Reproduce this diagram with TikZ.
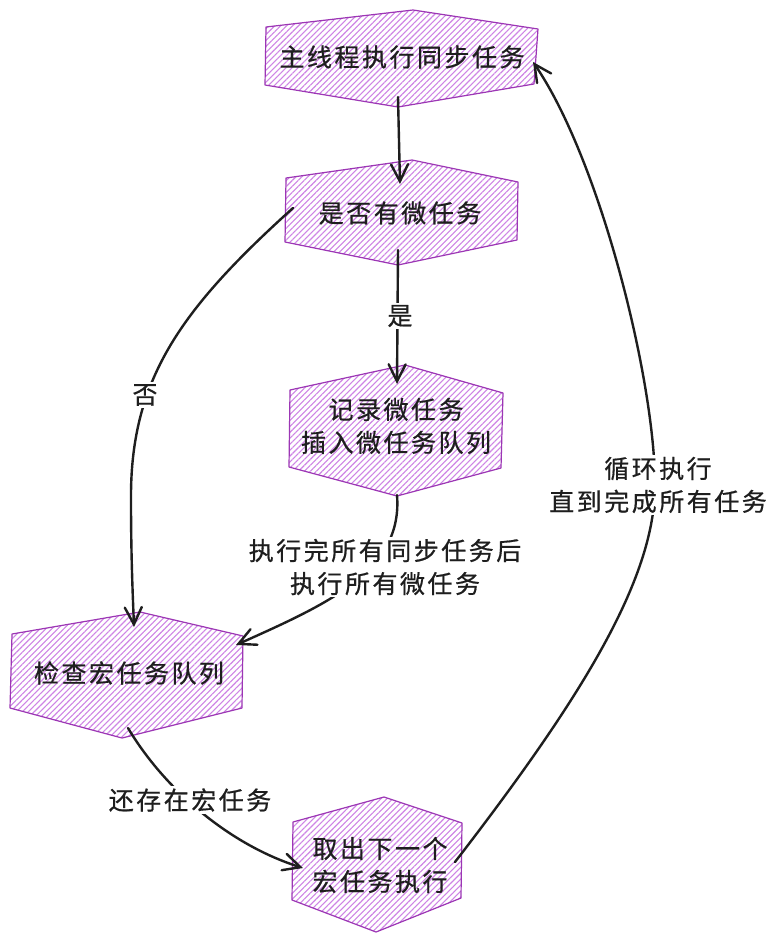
\documentclass[tikz,border=0pt]{standalone}
\usepackage{fontspec}
\setmainfont{Noto Sans CJK SC}
\usepackage{tikz}
\usetikzlibrary{arrows.meta,patterns.meta}
\definecolor{hexline}{RGB}{156,54,181}
\definecolor{hexhatch}{RGB}{206,132,229}
\definecolor{ink}{RGB}{30,30,30}
\begin{document}
\begin{tikzpicture}[x=1pt,y=-1pt]
\tikzstyle{every node}+=[inner sep=0pt, align=center, text=ink,
  font=\fontsize{25}{33}\selectfont\addfontfeature{LetterSpace=10,FakeBold=0.6}]
\tikzstyle{hexbox}=[draw=hexline, line width=1.2pt, line join=round,
  pattern={Lines[angle=45,distance=4.2pt,line width=1.1pt]}, pattern color=hexhatch]
\tikzstyle{link}=[draw=ink, line width=2.4pt, line cap=round,
  -{Straight Barb[length=17pt,width=17pt,line cap=round]}]
\tikzstyle{lbl}=[fill=white, inner sep=2pt]
\useasboundingbox (0,0) rectangle (777,942);
\fill [white] (0,0) rectangle (777,942);
\draw [hexbox] (266,27) -- (413,10) -- (538,29) -- (534,84) -- (398,107) -- (265,85) -- cycle;
\draw [hexbox] (286,178) -- (412,160) -- (518,182) -- (517,240) -- (398,265) -- (285,242) -- cycle;
\draw [hexbox] (290,390) -- (405,365) -- (503,393) -- (501,468) -- (397,496) -- (289,467) -- cycle;
\draw [hexbox] (12,634) -- (140,612) -- (243,636) -- (242,708) -- (122,738) -- (10,708) -- cycle;
\draw [hexbox] (293,822) -- (384,797) -- (462,823) -- (461,898) -- (376,932) -- (292,900) -- cycle;
\node (main) at (402,57) {主线程执行同步任务};
\node (ask) at (400,213) {是否有微任务};
\node (record) at (396,426) {记录微任务\\插入微任务队列};
\node (check) at (129,673) {检查宏任务队列};
\node (next) at (380,865) {取出下一个\\宏任务执行};
\coordinate (main-b) at (398,97);
\coordinate (main-r) at (533,62);
\coordinate (ask-t) at (400,184);
\coordinate (ask-b) at (398,250);
\coordinate (ask-l) at (293,208);
\coordinate (record-t) at (397,384);
\coordinate (record-b) at (397,495);
\coordinate (check-t) at (134,627);
\coordinate (check-r) at (236,645);
\coordinate (check-b) at (128,728);
\coordinate (next-l) at (303,868);
\coordinate (next-r) at (455,862);
\draw [link] (main-b) -- (ask-t);
\draw [link] (ask-b) -- (record-t);
\draw [link] (ask-l) .. controls (180,310) and (130,380) .. (131,500) .. controls (131,560) and (133,600) .. (check-t);
\draw [link] (record-b) .. controls (403,570) and (330,603) .. (check-r);
\draw [link] (check-b) .. controls (165,790) and (230,845) .. (next-l);
\draw [link] (next-r) .. controls (580,700) and (655,580) .. (655,485) .. controls (655,380) and (600,160) .. (main-r);
\node [lbl] (yes) at (400,316) {是};
\node [lbl] (no) at (145,395) {否};
\node [lbl] (afterall) at (385,567) {执行完所有同步任务后\\执行所有微任务};
\node [lbl] (still) at (190,800) {还存在宏任务};
\node [lbl] (loop) at (658,485) {循环执行\\直到完成所有任务};
\end{tikzpicture}
\end{document}
